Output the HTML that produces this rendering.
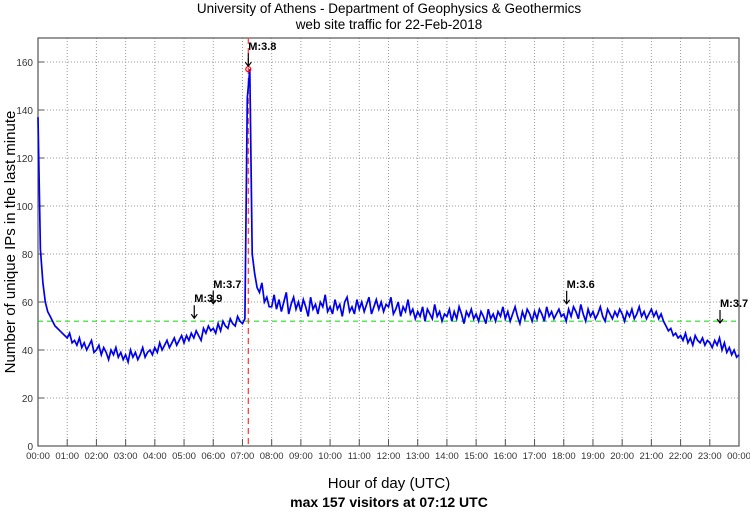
<!DOCTYPE html>
<html><head><meta charset="utf-8"><style>
body{margin:0;background:#fff;}
svg{display:block;font-family:"Liberation Sans",sans-serif;}
</style></head><body>
<svg id="chart" width="750" height="511" viewBox="0 0 750 511">
<text x="389" y="13" text-anchor="middle" font-size="13.5">University of Athens - Department of Geophysics &amp; Geothermics</text>
<text x="389" y="29" text-anchor="middle" font-size="13.5">web site traffic for 22-Feb-2018</text>
<g id="grid"></g>
<g id="axes"></g>
<g id="series"></g>
<g id="annot"></g>
<text transform="translate(15,242) rotate(-90)" text-anchor="middle" font-size="15">Number of unique IPs in the last minute</text>
<text x="389" y="488" text-anchor="middle" font-size="15">Hour of day (UTC)</text>
<text x="389" y="507" text-anchor="middle" font-size="14" font-weight="bold">max 157 visitors at 07:12 UTC</text>
</svg>
<script>
const yTicks=[0,20,40,60,80,100,120,140,160];
const hourLabels=["00:00","01:00","02:00","03:00","04:00","05:00","06:00","07:00","08:00","09:00","10:00","11:00","12:00","13:00","14:00","15:00","16:00","17:00","18:00","19:00","20:00","21:00","22:00","23:00","00:00"];
// visitors sampled every 5 minutes from 00:00
const visitors=[
137,82,68,60,56,54,52,50,49,48,47,46,
45,47,43,44,42,45,41,43,40,42,44,39,
40,42,38,41,39,36,40,38,41,37,39,36,
38,35,40,37,39,36,38,41,37,39,40,38,
41,39,43,40,42,44,41,43,45,42,44,46,
43,46,44,47,45,48,46,44,49,47,50,48,
49,47,51,48,52,50,49,53,51,50,54,52,
51,53,145,157,80,72,66,64,68,60,62,58,
58,63,57,61,56,60,64,55,59,62,57,60,
56,61,58,54,62,57,59,55,60,58,63,56,
58,55,61,57,59,54,60,62,56,58,55,61,
57,60,56,59,62,55,58,61,57,60,56,59,
58,62,55,57,60,54,58,56,61,55,57,53,
56,54,58,52,57,55,53,59,54,56,52,55,
54,57,52,56,53,58,55,51,56,54,57,53,
55,52,56,54,51,57,53,55,52,56,54,58,
53,56,52,55,58,54,51,56,53,57,55,52,
56,53,57,55,52,58,54,56,53,55,57,54,
55,52,57,54,58,56,53,59,55,52,57,54,
56,53,55,58,54,52,57,55,53,56,54,57,
55,52,56,54,57,53,55,58,54,56,53,55,
57,54,56,53,55,52,50,48,49,46,47,45,
46,44,47,43,45,42,46,44,43,45,42,44,
43,41,44,42,45,40,43,39,41,38,40,37,
38];
const meanLevel=52;
const peakValue=157;
const peakHour=7.2;
const quakeLabels=["M:3.9","M:3.7","M:3.8","M:3.6","M:3.7"];
const quakeHours=[5.35,6.0,7.2,18.1,23.35];
const quakeValues=[52,58,157,58,50];

const L=38,R=739,T=38,B=446,yMax=170;
const X=h=>L+(R-L)*h/24;
const Y=v=>B-(B-T)*v/yMax;
const NS="http://www.w3.org/2000/svg";
function mk(tag,attrs,parent){const e=document.createElementNS(NS,tag);for(const k in attrs)e.setAttribute(k,attrs[k]);parent.appendChild(e);return e;}
const grid=document.getElementById('grid'),axes=document.getElementById('axes'),series=document.getElementById('series'),annot=document.getElementById('annot');
mk('rect',{x:L,y:T,width:R-L,height:B-T,fill:'#fff'},grid);
yTicks.forEach(v=>{
  if(v>0){const g=mk('line',{x1:L,x2:R,y1:Y(v),y2:Y(v),stroke:'#999','stroke-dasharray':'1,2'},grid);
  }
  mk('line',{x1:L,x2:L+6,y1:Y(v),y2:Y(v),stroke:'#555'},axes);
  const t=mk('text',{x:L-5,y:Y(v)+4,'text-anchor':'end','font-size':10,fill:'#333'},axes);t.textContent=v;
  
});
hourLabels.forEach((lab,i)=>{
  const x=X(i);
  if(i>0&&i<24){const g=mk('line',{x1:x,x2:x,y1:T,y2:B,stroke:'#999','stroke-dasharray':'1,2'},grid);
  }
  mk('line',{x1:x,x2:x,y1:B,y2:B-7,stroke:'#555'},axes);
  const t=mk('text',{x:x,y:B+13,'text-anchor':'middle','font-size':9.5,fill:'#333'},axes);t.textContent=lab;
  
});
const mline=mk('line',{x1:L,x2:R,y1:Y(meanLevel),y2:Y(meanLevel),stroke:'#22dd22','stroke-dasharray':'5,4','stroke-width':1.2},series);

const pline=mk('line',{x1:X(peakHour),x2:X(peakHour),y1:T,y2:B,stroke:'#ff3333','stroke-dasharray':'6,4','stroke-width':1.2},series);

const pts=visitors.map((v,i)=>X(i*5/60).toFixed(1)+','+Y(v).toFixed(1)).join(' ');
const pl=mk('polyline',{points:pts,fill:'none',stroke:'#0000ee','stroke-width':1.7},series);

const pc=mk('circle',{cx:X(peakHour),cy:Y(peakValue),r:2.5,fill:'none',stroke:'#ff0000','stroke-width':1.2},series);

mk('rect',{x:L,y:T,width:R-L,height:B-T,fill:'none',stroke:'#555','stroke-width':1.2},axes);
quakeLabels.forEach((lab,i)=>{
  const x=X(quakeHours[i]),y=Y(quakeValues[i])-3;
  const a=mk('path',{d:`M${x},${y-13}L${x},${y}M${x-3},${y-4}L${x},${y}L${x+3},${y-4}`,stroke:'#000',fill:'none','stroke-width':1.2},annot);
  
  const t=mk('text',{x:x,y:y-16,'font-size':11,'font-weight':'bold'},annot);t.textContent=lab;
  
});
</script>
</body></html>
